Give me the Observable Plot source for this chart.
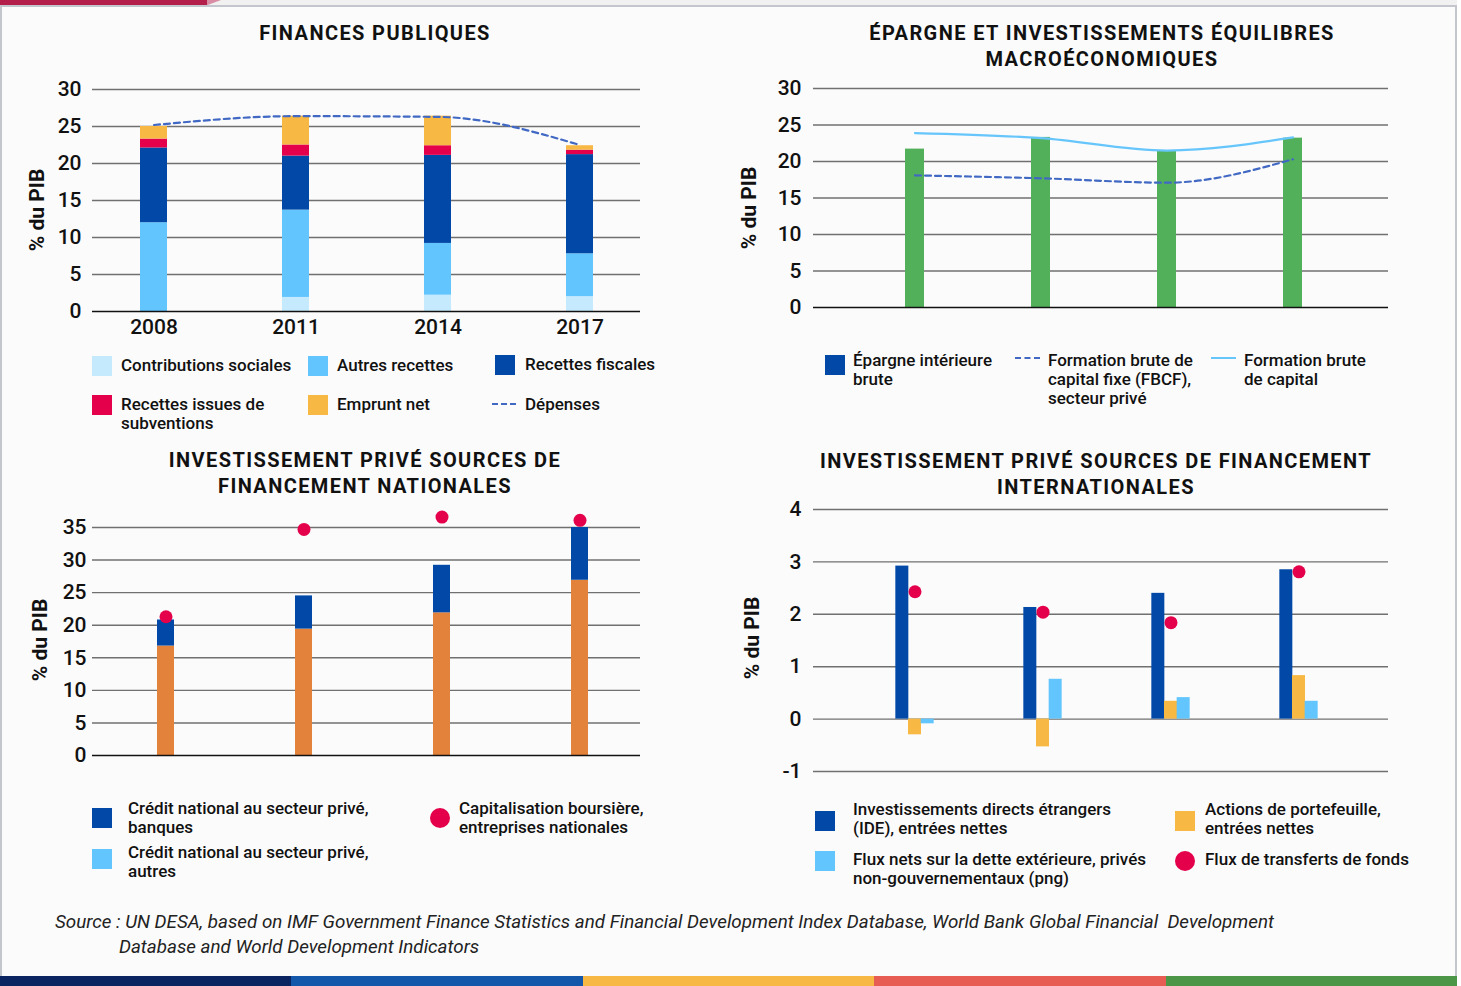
<!DOCTYPE html>
<html><head><meta charset="utf-8">
<script src="https://cdn.jsdelivr.net/npm/d3@7"></script>
<script src="https://cdn.jsdelivr.net/npm/@observablehq/plot@0.6"></script>
<style>
body{margin:0;background:#fff;font-family:Roboto,sans-serif;color:#111;}
#page{position:relative;width:1461px;height:986px;overflow:hidden;background:#fbfbfb;}
.title{position:absolute;font-weight:700;font-size:20px;letter-spacing:1.4px;text-align:center;line-height:26px;white-space:nowrap;transform:translateX(-50%);color:#111;}
.ylab{position:absolute;font-weight:700;font-size:21px;transform:translate(-50%,-50%) rotate(-90deg);white-space:nowrap;color:#111;}
.leg{position:absolute;font-size:17px;font-weight:500;line-height:19px;white-space:nowrap;color:#111;}
.sw{position:absolute;width:20px;height:20px;}
.dot{position:absolute;width:20px;height:20px;border-radius:50%;}
.chart{position:absolute;}
.cap{position:absolute;font-style:italic;font-size:18.8px;color:#222;white-space:nowrap;}
</style></head><body><div id="page"></div>
<script>
// ---------- DATA ----------
const years = ["2008", "2011", "2014", "2017"];

// Finances publiques (% du PIB)
const seriesFP = ["Contributions sociales", "Autres recettes", "Recettes fiscales", "Recettes issues de subventions", "Emprunt net"];
const contributionsSociales = [0.0, 1.9, 2.2, 2.0];
const autresRecettes = [12.0, 11.8, 7.0, 5.8];
const recettesFiscales = [10.1, 7.3, 11.9, 13.4];
const recettesSubventions = [1.2, 1.5, 1.3, 0.6];
const empruntNet = [1.7, 3.9, 4.0, 0.6];
const depenses = [25.2, 26.4, 26.3, 22.5];
const ticksFP = [0, 5, 10, 15, 20, 25, 30];

// Épargne et investissements
const epargneBrute = [21.7, 23.3, 21.5, 23.2];
const fbcfPrive = [18.1, 17.7, 17.1, 20.3];
const formationBruteCapital = [23.9, 23.2, 21.5, 23.3];
const ticksEI = [0, 5, 10, 15, 20, 25, 30];

// Investissement privé, sources nationales
const creditBas = [16.8, 19.4, 21.9, 26.9];
const creditHaut = [4.0, 5.1, 7.3, 8.1];
const capitalisation = [21.3, 34.7, 36.6, 36.1];
const ticksNat = [0, 5, 10, 15, 20, 25, 30, 35];

// Investissement privé, sources internationales
const ide = [2.92, 2.13, 2.40, 2.85];
const actionsPortefeuille = [-0.30, -0.53, 0.34, 0.83];
const fluxDette = [-0.09, 0.76, 0.41, 0.34];
const transferts = [2.43, 2.04, 1.84, 2.81];
const ticksInt = [-1, 0, 1, 2, 3, 4];

// ---------- COLOURS ----------
const C = {
  contrib: "#c6eafd", autres: "#63c5fe", fiscal: "#0249a7", subv: "#e5004c", emprunt: "#f7b844",
  dep: "#4169c4", green: "#53b05a", fbc: "#66c6fc", orange: "#e3823a", red: "#e4004b",
  grid: "#707070", base: "#111"
};

const page = document.getElementById("page");
function el(tag, cls, style, html) {
  const e = document.createElement(tag);
  if (cls) e.className = cls;
  Object.assign(e.style, style || {});
  if (html !== undefined) e.innerHTML = html;
  page.appendChild(e);
  return e;
}

// ---------- FRAME DECORATION ----------
el("div", "", {position:"absolute", left:"0px", top:"0px", width:"1461px", height:"5px", background:"#f1f1f1"});
el("div", "", {position:"absolute", left:"0px", top:"0px", width:"221px", height:"5px", background:"#d88da4", clipPath:"polygon(0 0,100% 0,94% 100%,0 100%)"});
el("div", "", {position:"absolute", left:"0px", top:"0px", width:"207px", height:"5px", background:"#b31e4a"});
el("div", "", {position:"absolute", left:"0px", top:"5px", width:"1457px", height:"1.5px", background:"#c4c6ce"});
el("div", "", {position:"absolute", left:"0px", top:"5px", width:"1.5px", height:"971px", background:"#c4c6ce"});
el("div", "", {position:"absolute", left:"1455px", top:"5px", width:"1.5px", height:"971px", background:"#c4c6ce"});
el("div", "", {position:"absolute", left:"1457px", top:"0px", width:"4px", height:"986px", background:"#fff"});
const barColors = ["#0a2461", "#1257a9", "#f7b944", "#e85d53", "#4c9648"];
barColors.forEach((c, i) => el("div", "", {position:"absolute", left:(i * 291.4) + "px", top:"976px", width:"291.6px", height:"10px", background:c}));

const baseStyle = {fontFamily:"Roboto, sans-serif", fontSize:"21px", fontWeight:"500", color:"#111", background:"transparent", overflow:"visible"};
const fmt = d => String(d);

function place(svg, left, top) {
  const wrap = el("div", "chart", {left:left + "px", top:top + "px"});
  wrap.appendChild(svg);
}

// ---------- CHART 1 : FINANCES PUBLIQUES ----------
{
  const cols = [contributionsSociales, autresRecettes, recettesFiscales, recettesSubventions, empruntNet];
  const data = years.flatMap((y, i) => seriesFP.map((s, j) => ({year:y, series:s, value:cols[j][i]})));
  const dep = years.map((y, i) => ({year:y, value:depenses[i]}));
  const svg = Plot.plot({
    width:700, height:280, marginTop:19, marginBottom:39, marginLeft:92, marginRight:60,
    style: baseStyle,
    x:{type:"band", domain:years, range:[139.5, 593.5], paddingInner:0.81, paddingOuter:0, tickSize:0, tickPadding:8, label:null},
    y:{domain:[0, 30], ticks:ticksFP, tickFormat:fmt, tickSize:0, tickPadding:11, label:null},
    color:{domain:seriesFP, range:[C.contrib, C.autres, C.fiscal, C.subv, C.emprunt]},
    marks:[
      Plot.ruleY(ticksFP.filter(t => t !== 0), {stroke:C.grid, strokeWidth:1.4}),
      Plot.barY(data, {x:"year", y:"value", fill:"series", order:seriesFP}),
      Plot.ruleY([0], {stroke:C.base, strokeWidth:1.5}),
      Plot.lineY(dep, {x:"year", y:"value", stroke:C.dep, strokeWidth:2.2, strokeDasharray:"6,4", curve:"monotone-x"})
    ]
  });
  place(svg, 0, 70);
  el("div", "title", {left:"375px", top:"20px"}, "FINANCES PUBLIQUES");
  el("div", "ylab", {left:"37px", top:"210px"}, "% du PIB");
  // legend
  const L = [
    [92, 356, C.contrib, 121, "Contributions sociales"],
    [308, 356, C.autres, 337, "Autres recettes"],
    [495, 355, C.fiscal, 525, "Recettes fiscales"],
    [92, 395, C.subv, 121, "Recettes issues de<br>subventions"],
    [308, 395, C.emprunt, 337, "Emprunt net"]
  ];
  L.forEach(([x, y, c, tx, t]) => {
    el("div", "sw", {left:x + "px", top:y + "px", background:c});
    el("div", "leg", {left:tx + "px", top:(y - 0) + "px"}, t);
  });
  el("div", "", {position:"absolute", left:"492px", top:"403px", width:"24px", height:"0px", borderTop:"2px dashed " + C.dep});
  el("div", "leg", {left:"525px", top:"395px"}, "Dépenses");
}

// ---------- CHART 2 : ÉPARGNE ET INVESTISSEMENTS ----------
{
  const bars = years.map((y, i) => ({year:y, value:epargneBrute[i]}));
  const l1 = years.map((y, i) => ({year:y, value:fbcfPrive[i]}));
  const l2 = years.map((y, i) => ({year:y, value:formationBruteCapital[i]}));
  const svg = Plot.plot({
    width:761, height:260, marginTop:18, marginBottom:23, marginLeft:113, marginRight:73,
    style: baseStyle,
    x:{type:"band", domain:years, range:[203.5, 603.5], paddingInner:0.85, paddingOuter:0, axis:null},
    y:{domain:[0, 30], ticks:ticksEI, tickFormat:fmt, tickSize:0, tickPadding:12, label:null},
    marks:[
      Plot.ruleY(ticksEI.filter(t => t !== 0), {stroke:C.grid, strokeWidth:1.4}),
      Plot.barY(bars, {x:"year", y:"value", fill:C.green}),
      Plot.ruleY([0], {stroke:C.base, strokeWidth:1.5}),
      Plot.lineY(l1, {x:"year", y:"value", stroke:C.dep, strokeWidth:2.2, strokeDasharray:"6,4", curve:"monotone-x"}),
      Plot.lineY(l2, {x:"year", y:"value", stroke:C.fbc, strokeWidth:2.2, curve:"monotone-x"})
    ]
  });
  place(svg, 700, 70);
  el("div", "title", {left:"1102px", top:"20px"}, "ÉPARGNE ET INVESTISSEMENTS ÉQUILIBRES<br>MACROÉCONOMIQUES");
  el("div", "ylab", {left:"749px", top:"208px"}, "% du PIB");
  el("div", "sw", {left:"825px", top:"355px", background:C.fiscal});
  el("div", "leg", {left:"853px", top:"351px"}, "Épargne intérieure<br>brute");
  el("div", "", {position:"absolute", left:"1015px", top:"357px", width:"25px", height:"0px", borderTop:"2px dashed " + C.dep});
  el("div", "leg", {left:"1048px", top:"351px"}, "Formation brute de<br>capital fixe (FBCF),<br>secteur privé");
  el("div", "", {position:"absolute", left:"1211px", top:"357px", width:"25px", height:"2px", background:C.fbc});
  el("div", "leg", {left:"1244px", top:"351px"}, "Formation brute<br>de capital");
}

// ---------- CHART 3 : SOURCES NATIONALES ----------
{
  const stackData = years.flatMap((y, i) => [
    {year:y, part:"bas", value:creditBas[i]},
    {year:y, part:"haut", value:creditHaut[i]}
  ]);
  const dots = years.map((y, i) => ({year:y, value:capitalisation[i]}));
  const svg = Plot.plot({
    width:700, height:280, marginTop:27, marginBottom:25, marginLeft:92, marginRight:60,
    style: baseStyle,
    x:{type:"band", domain:years, range:[157, 588], paddingInner:0.88, paddingOuter:0, axis:null},
    y:{domain:[0, 35], ticks:ticksNat, tickFormat:fmt, tickSize:0, tickPadding:6, label:null},
    color:{domain:["bas", "haut"], range:[C.orange, C.fiscal]},
    marks:[
      Plot.ruleY(ticksNat.filter(t => t !== 0), {stroke:C.grid, strokeWidth:1.4}),
      Plot.barY(stackData, {x:"year", y:"value", fill:"part", order:["bas", "haut"]}),
      Plot.ruleY([0], {stroke:C.base, strokeWidth:1.5}),
      Plot.dot(dots, {x:"year", y:"value", r:6.5, fill:C.red, stroke:"none"})
    ]
  });
  place(svg, 0, 500);
  el("div", "title", {left:"365px", top:"447px"}, "INVESTISSEMENT PRIVÉ SOURCES DE<br>FINANCEMENT NATIONALES");
  el("div", "ylab", {left:"40px", top:"640px"}, "% du PIB");
  el("div", "sw", {left:"92px", top:"808px", background:C.fiscal});
  el("div", "leg", {left:"128px", top:"799px"}, "Crédit national au secteur privé,<br>banques");
  el("div", "sw", {left:"92px", top:"849px", background:C.autres});
  el("div", "leg", {left:"128px", top:"843px"}, "Crédit national au secteur privé,<br>autres");
  el("div", "dot", {left:"430px", top:"808px", background:C.red});
  el("div", "leg", {left:"459px", top:"799px"}, "Capitalisation boursière,<br>entreprises nationales");
}

// ---------- CHART 4 : SOURCES INTERNATIONALES ----------
{
  const bw = 12.67; // width of one bar within a group
  const mk = arr => years.map((y, i) => ({year:y, value:arr[i]}));
  const svg = Plot.plot({
    width:761, height:290, marginTop:14, marginBottom:14, marginLeft:113, marginRight:73,
    style: baseStyle,
    x:{type:"band", domain:years, range:[207, 606], paddingInner:0.9017, paddingOuter:0, axis:null},
    y:{domain:[-1, 4], ticks:ticksInt, tickFormat:fmt, tickSize:0, tickPadding:12, label:null},
    marks:[
      Plot.ruleY(ticksInt, {stroke:C.grid, strokeWidth:1.4}),
      Plot.barY(mk(ide), {x:"year", y:"value", fill:C.fiscal, dx:-bw}),
      Plot.barY(mk(actionsPortefeuille), {x:"year", y:"value", fill:C.emprunt}),
      Plot.barY(mk(fluxDette), {x:"year", y:"value", fill:C.autres, dx:bw}),
      Plot.dot(mk(transferts), {x:"year", y:"value", r:6.5, fill:C.red, stroke:"none"})
    ]
  });
  place(svg, 700, 495);
  el("div", "title", {left:"1096px", top:"448px"}, "INVESTISSEMENT PRIVÉ SOURCES DE FINANCEMENT<br>INTERNATIONALES");
  el("div", "ylab", {left:"752px", top:"638px"}, "% du PIB");
  el("div", "sw", {left:"815px", top:"811px", background:C.fiscal});
  el("div", "leg", {left:"853px", top:"800px"}, "Investissements directs étrangers<br>(IDE), entrées nettes");
  el("div", "sw", {left:"1175px", top:"811px", background:C.emprunt});
  el("div", "leg", {left:"1205px", top:"800px"}, "Actions de portefeuille,<br>entrées nettes");
  el("div", "sw", {left:"815px", top:"851px", background:C.autres});
  el("div", "leg", {left:"853px", top:"850px"}, "Flux nets sur la dette extérieure, privés<br>non-gouvernementaux (png)");
  el("div", "dot", {left:"1175px", top:"851px", background:C.red});
  el("div", "leg", {left:"1205px", top:"850px"}, "Flux de transferts de fonds");
}

// ---------- SOURCE ----------
el("div", "cap", {left:"55px", top:"911px"}, "Source : UN DESA, based on IMF Government Finance Statistics and Financial Development Index Database, World Bank Global Financial&nbsp; Development");
el("div", "cap", {left:"119px", top:"936px"}, "Database and World Development Indicators");
</script></body></html>
